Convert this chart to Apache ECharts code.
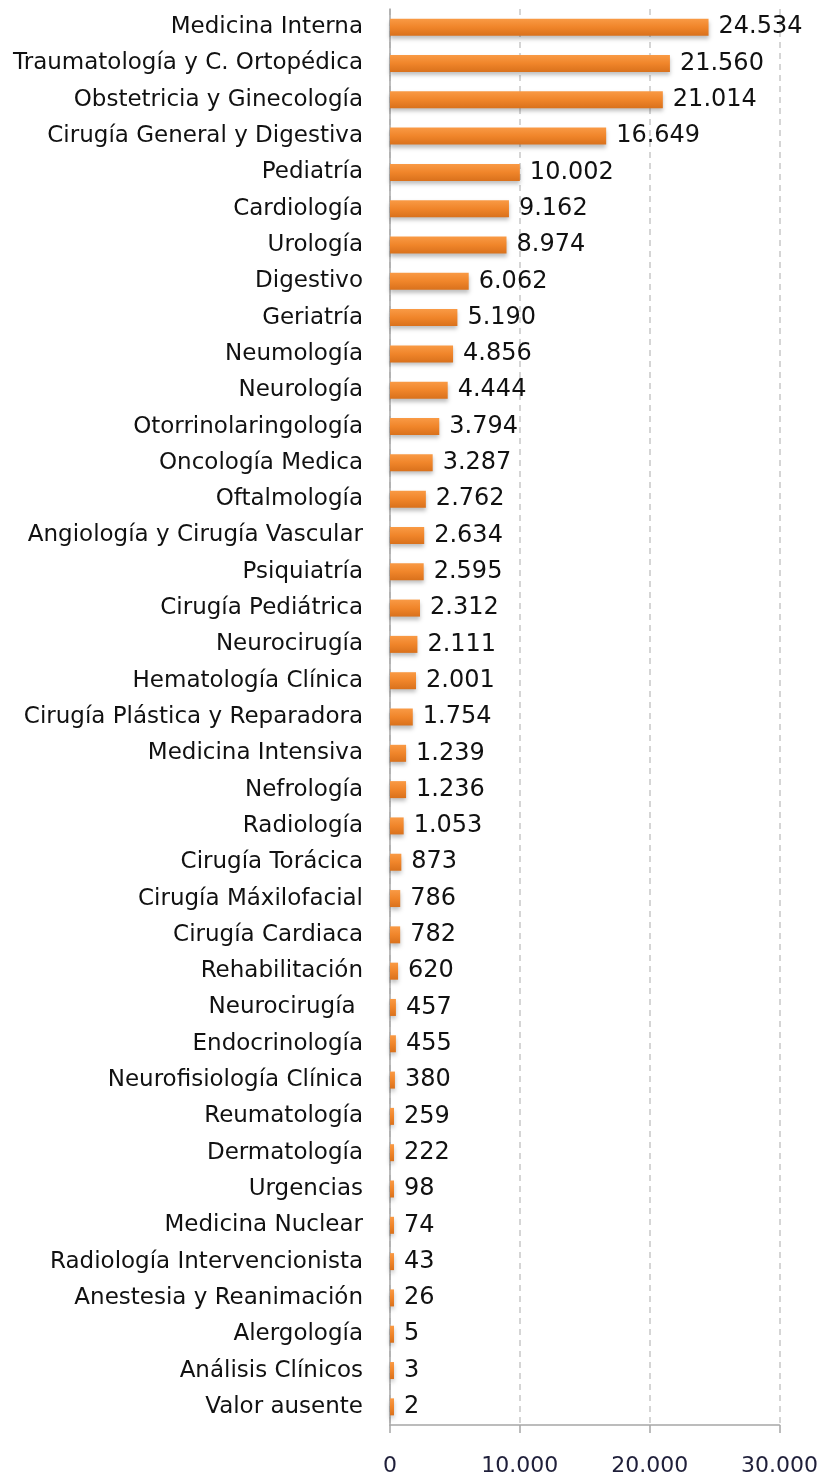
<!DOCTYPE html>
<html>
<head>
<meta charset="utf-8">
<script src="https://cdn.jsdelivr.net/npm/echarts@6/dist/echarts.min.js"></script>
<style>
    html, body { margin: 0; padding: 0; background: #fff; }
    #chart { width: 821px; height: 1477px; }
</style>
</head>
<body>
<div id="chart"></div>
<script>
var categories = ['Medicina Interna', 'Traumatología y C. Ortopédica', 'Obstetricia y Ginecología',
    'Cirugía General y Digestiva', 'Pediatría', 'Cardiología', 'Urología', 'Digestivo', 'Geriatría',
    'Neumología', 'Neurología', 'Otorrinolaringología', 'Oncología Medica', 'Oftalmología',
    'Angiología y Cirugía Vascular', 'Psiquiatría', 'Cirugía Pediátrica', 'Neurocirugía',
    'Hematología Clínica', 'Cirugía Plástica y Reparadora', 'Medicina Intensiva', 'Nefrología',
    'Radiología', 'Cirugía Torácica', 'Cirugía Máxilofacial', 'Cirugía Cardiaca', 'Rehabilitación',
    'Neurocirugía ', 'Endocrinología', 'Neurofisiología Clínica', 'Reumatología', 'Dermatología',
    'Urgencias', 'Medicina Nuclear', 'Radiología Intervencionista', 'Anestesia y Reanimación',
    'Alergología', 'Análisis Clínicos', 'Valor ausente'];
var values = [24534, 21560, 21014, 16649, 10002, 9162, 8974, 6062, 5190, 4856, 4444, 3794, 3287,
    2762, 2634, 2595, 2312, 2111, 2001, 1754, 1239, 1236, 1053, 873, 786, 782, 620, 457, 455, 380,
    259, 222, 98, 74, 43, 26, 5, 3, 2];
var xTicks = [0, 10000, 20000, 30000];

function fmt(v) {
    // separador de miles con punto
    return String(v).replace(/\B(?=(\d{3})+(?!\d))/g, '.');
}

var myChart = echarts.init(document.getElementById('chart'));

var option = {
    animation: false,
    grid: {left: 390, right: 40, top: 9, bottom: 50, containLabel: false},
    xAxis: {
        type: 'value',
        min: xTicks[0],
        max: xTicks[xTicks.length - 1],
        interval: 10000,
        axisLine: {show: true, lineStyle: {color: '#a6a6a6', width: 1.5}},
        axisTick: {show: true, length: 8, lineStyle: {color: '#a6a6a6', width: 1.5}},
        axisLabel: {
            formatter: fmt,
            fontFamily: 'DejaVu Sans',
            fontSize: 22,
            color: '#1f1f3a',
            margin: 30
        },
        splitLine: {show: true, lineStyle: {color: '#c8c8c8', type: [6, 5], width: 1.5}}
    },
    yAxis: {
        type: 'category',
        inverse: true,
        data: categories,
        axisLine: {show: true, lineStyle: {color: '#a6a6a6', width: 1.5}},
        axisTick: {show: false},
        axisLabel: {
            fontFamily: 'DejaVu Sans',
            fontSize: 23,
            color: '#111',
            margin: 27
        }
    },
    series: [{
        type: 'bar',
        data: values,
        barWidth: 17,
        barMinHeight: 4,
        itemStyle: {
            color: new echarts.graphic.LinearGradient(0, 0, 0, 1, [
                {offset: 0, color: '#f99a45'},
                {offset: 0.5, color: '#f0852a'},
                {offset: 1, color: '#d9711c'}
            ]),
            shadowColor: 'rgba(0,0,0,0.25)',
            shadowBlur: 4,
            shadowOffsetY: 3
        },
        label: {
            show: true,
            position: 'right',
            distance: 10,
            formatter: function (p) { return fmt(p.value); },
            fontFamily: 'DejaVu Sans',
            fontSize: 24,
            color: '#111'
        }
    }]
};

myChart.setOption(option);
</script>
</body>
</html>
